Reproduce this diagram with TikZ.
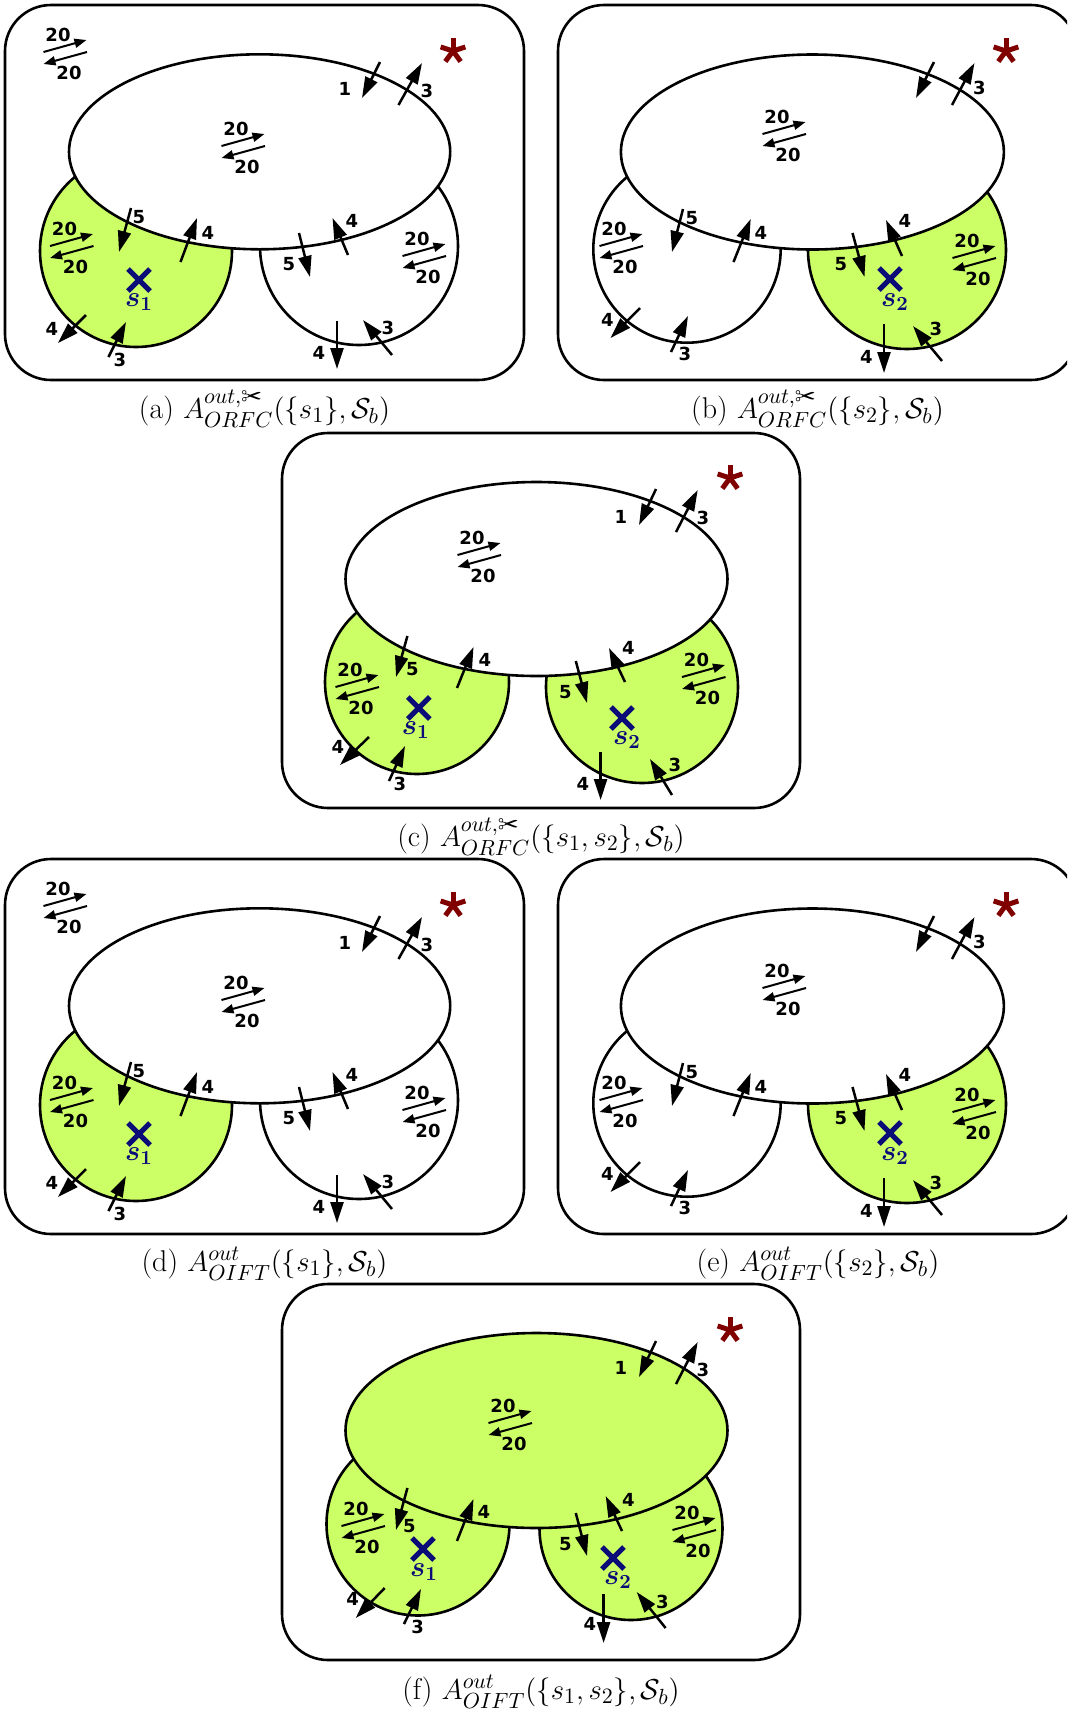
\documentclass[tikz,border=0pt]{standalone}
\usepackage{amsmath}
\usepackage{pifont}
\usepackage{fontspec}
\usetikzlibrary{arrows.meta}
\newfontfamily\labelfont{DejaVu Sans}

\definecolor{regiongreen}{RGB}{204,255,102}
\definecolor{sitenavy}{RGB}{12,12,120}
\definecolor{starred}{RGB}{128,0,0}

\tikzset{
  panelframe/.style={line width=1.3pt, rounded corners=23pt},
  border/.style={line width=1.3pt},
  flow/.style={line width=1.25pt, -{Triangle[length=10.5pt,width=6.5pt]}},
  xflow/.style={line width=1pt, -{Triangle[length=6pt,width=4.5pt]}},
  num/.style={font=\labelfont\bfseries\fontsize{9}{9}\selectfont, inner sep=0pt},
  sitemark/.style={line width=2.6pt, draw=sitenavy},
  sitelabel/.style={text=sitenavy, inner sep=0pt, font=\fontsize{14.5}{14.5}\selectfont\boldmath},
  caption/.style={font=\fontsize{15}{17}\selectfont, inner sep=0pt, anchor=base},
  pics/xchg/.style={code={
    \draw[xflow] (-21.5,0) -- (21.5,-12);
    \draw[xflow] (22,0) -- (-21.5,12);
    \node[num] (-top) at (-7,-17) {20};
    \node[num] (-bot) at (4,21) {20};
  }},
  pics/destination/.style={code={
    \foreach \a in {-90,-18,54,126,198}
      \draw[starred, line width=2.5pt] (0,0) -- (\a:13);
  }},
}

% an arrow between two named end points
\newcommand\flowarrow[3]{%
  \coordinate (#1-t) at (#2);
  \coordinate (#1-h) at (#3);
  \draw[flow] (#1-t) -- (#1-h);}
\newcommand\flowlabel[3]{\node[num] (#1-n) at (#2) {#3};}
% a source site: cross with its name below
\newcommand\site[4]{%
  \coordinate (#1) at (#2);
  \draw[sitemark] (#1) +(-11,-11) -- +(11,11) +(-11,11) -- +(11,-11);
  \node[sitelabel] (#1-lab) at (#3) {$#4$};}

% layout with the left sub-area highlighted
\newcommand\panelLeft[1]{%
  \draw[panelframe] (5,5) rectangle (524,380);
  \filldraw[border, fill=regiongreen] (136,251) circle[radius=96];
  \filldraw[border, fill=white] (359,246) circle[radius=99];
  \filldraw[border, fill=white] (259.6,151.8) ellipse[x radius=190.6, y radius=97.5];
  \pic (#1-x0) at (65,52) {xchg};
  \pic (#1-x1) at (243,146) {xchg};
  \pic (#1-x2) at (71.5,246) {xchg};
  \pic (#1-x3) at (424,256) {xchg};
  \flowarrow{#1-f1}{380,62}{362,98}       \flowlabel{#1-f1}{345,89}{1}
  \flowarrow{#1-f2}{398.5,105}{422,63}    \flowlabel{#1-f2}{427,91}{3}
  \flowarrow{#1-f3}{131,208}{119,252}     \flowlabel{#1-f3}{139,217}{5}
  \flowarrow{#1-f4}{180.5,262}{197,218}   \flowlabel{#1-f4}{208,233}{4}
  \flowarrow{#1-f5}{299,233}{310,277}     \flowlabel{#1-f5}{289,264}{5}
  \flowarrow{#1-f6}{348,255}{332.5,218}   \flowlabel{#1-f6}{352,221}{4}
  \flowarrow{#1-f7}{86,315}{58,343}       \flowlabel{#1-f7}{52,329}{4}
  \flowarrow{#1-f8}{108.5,357}{126,322}   \flowlabel{#1-f8}{120,360}{3}
  \flowarrow{#1-f9}{337,321}{337,369}     \flowlabel{#1-f9}{319,353}{4}
  \flowarrow{#1-f10}{392,355}{363,320}    \flowlabel{#1-f10}{388,328}{3}
  \site{#1-s1}{139,280}{139,302}{s_1}
  \pic (#1-star) at (453,51) {destination};
}

% layout with the right sub-area highlighted
\newcommand\panelRight[1]{%
  \draw[panelframe] (558,5) rectangle (1077,380);
  \filldraw[border, fill=white] (687,249) circle[radius=93.7];
  \filldraw[border, fill=regiongreen] (907,250) circle[radius=99];
  \filldraw[border, fill=white] (812.4,152) ellipse[x radius=191.5, y radius=97.5];
  \pic (#1-x1) at (784,134) {xchg};
  \pic (#1-x2) at (621,246) {xchg};
  \pic (#1-x3) at (974,258) {xchg};
  \flowarrow{#1-f1}{934,62}{916,98}
  \flowarrow{#1-f2}{952,105}{974.5,63}    \flowlabel{#1-f2}{979.5,88}{3}
  \flowarrow{#1-f3}{683,209}{672,252}     \flowlabel{#1-f3}{692,218}{5}
  \flowarrow{#1-f4}{733.5,262}{750.7,219} \flowlabel{#1-f4}{761,233}{4}
  \flowarrow{#1-f5}{852.5,233}{864.5,277} \flowlabel{#1-f5}{841,264}{5}
  \flowarrow{#1-f6}{902,256}{886,220}     \flowlabel{#1-f6}{905,221}{4}
  \flowarrow{#1-f7}{640,308}{610.5,338}   \flowlabel{#1-f7}{607.5,320}{4}
  \flowarrow{#1-f8}{671,352}{688,316}     \flowlabel{#1-f8}{685,354}{3}
  \flowarrow{#1-f9}{884,324}{884,373}     \flowlabel{#1-f9}{866.5,357}{4}
  \flowarrow{#1-f10}{942,361}{913,326}    \flowlabel{#1-f10}{936,329}{3}
  \site{#1-s2}{890,279}{895,302}{s_2}
  \pic (#1-star) at (1006,51) {destination};
}

\begin{document}
\begin{tikzpicture}[x=0.5pt,y=-0.5pt]
\useasboundingbox (0,0) rectangle (1067,1710);
\clip (0,0) rectangle (1067,1710);

% (a) and (b)
\panelLeft{a}
\node[caption] (cap-a) at (264.5,418) {(a) $A^{out,\text{\ding{34}}}_{ORFC}(\{s_1\},\mathcal{S}_b)$};
\panelRight{b}
\node[caption] (cap-b) at (817.5,418) {(b) $A^{out,\text{\ding{34}}}_{ORFC}(\{s_2\},\mathcal{S}_b)$};

% (c) both sub-areas highlighted
\draw[panelframe] (282,433) rectangle (800,808);
\filldraw[border, fill=regiongreen] (417,682) circle[radius=92];
\filldraw[border, fill=regiongreen] (642,687) circle[radius=96];
\filldraw[border, fill=white] (536.5,579) ellipse[x radius=191, y radius=97];
\pic (c-x1) at (479,555) {xchg};
\pic (c-x2) at (357,687) {xchg};
\pic (c-x3) at (703.5,677) {xchg};
\flowarrow{c-f1}{656,489}{639,525}       \flowlabel{c-f1}{621,517}{1}
\flowarrow{c-f2}{676,532}{697.7,490}     \flowlabel{c-f2}{703,518}{3}
\flowarrow{c-f3}{407.4,636}{396,677}     \flowlabel{c-f3}{412.5,669}{5}
\flowarrow{c-f4}{457,688}{473.5,647}     \flowlabel{c-f4}{485,660}{4}
\flowarrow{c-f5}{575.8,661}{587,703}     \flowlabel{c-f5}{565.4,692}{5}
\flowarrow{c-f6}{625,682}{609,648}       \flowlabel{c-f6}{628.5,648}{4}
\flowarrow{c-f7}{369,737}{340,765}       \flowlabel{c-f7}{338,747}{4}
\flowarrow{c-f8}{389,781}{405,746}       \flowlabel{c-f8}{400,784}{3}
\flowarrow{c-f9}{600.6,752}{600.6,800}   \flowlabel{c-f9}{583,784}{4}
\flowarrow{c-f10}{672,795}{650,759}      \flowlabel{c-f10}{675,765}{3}
\site{c-s1}{418.8,708}{415.7,730}{s_1}
\site{c-s2}{622,718}{627,740}{s_2}
\pic (c-star) at (730,478) {destination};
\node[caption] (cap-c) at (541,846) {(c) $A^{out,\text{\ding{34}}}_{ORFC}(\{s_1,s_2\},\mathcal{S}_b)$};

% (d) and (e)
\begin{scope}[shift={(0,854)}]
  \panelLeft{d}
  \node[caption] (cap-d) at (264.5,417) {(d) $A^{out}_{OIFT}(\{s_1\},\mathcal{S}_b)$};
  \panelRight{e}
  \node[caption] (cap-e) at (818,417) {(e) $A^{out}_{OIFT}(\{s_2\},\mathcal{S}_b)$};
\end{scope}

% (f) everything highlighted
\draw[panelframe] (282,1284) rectangle (800,1660);
\filldraw[border, fill=regiongreen] (418,1524) circle[radius=91.5];
\filldraw[border, fill=regiongreen] (631,1528.5) circle[radius=91.5];
\filldraw[border, fill=regiongreen] (536.5,1430.5) ellipse[x radius=191, y radius=97.5];
\pic (f-x1) at (510,1423) {xchg};
\pic (f-x2) at (363,1526) {xchg};
\pic (f-x3) at (694,1530) {xchg};
\flowarrow{f-f1}{656,1341}{639,1377}     \flowlabel{f-f1}{621,1368}{1}
\flowarrow{f-f2}{676,1384}{697.7,1342}   \flowlabel{f-f2}{703,1370}{3}
\flowarrow{f-f3}{407.4,1488}{396,1530}   \flowlabel{f-f3}{409.5,1526}{5}
\flowarrow{f-f4}{457,1541}{473.5,1499}   \flowlabel{f-f4}{484,1512}{4}
\flowarrow{f-f5}{575.8,1513}{587,1556}   \flowlabel{f-f5}{565.4,1544}{5}
\flowarrow{f-f6}{622,1531}{605.7,1496}   \flowlabel{f-f6}{628.5,1500}{4}
\flowarrow{f-f7}{384.7,1588}{355.7,1618} \flowlabel{f-f7}{352.6,1599}{4}
\flowarrow{f-f8}{404,1624}{421,1589}     \flowlabel{f-f8}{417.7,1627}{3}
\flowarrow{f-f9}{603.6,1594}{603.6,1643} \flowlabel{f-f9}{590,1624}{4}
\flowarrow{f-f10}{665.6,1628}{636.7,1592} \flowlabel{f-f10}{662.5,1602}{3}
\site{f-s1}{423,1549}{424,1572}{s_1}
\site{f-s2}{613,1558}{618,1580}{s_2}
\pic (f-star) at (730,1330) {destination};
\node[caption] (cap-f) at (541,1699) {(f) $A^{out}_{OIFT}(\{s_1,s_2\},\mathcal{S}_b)$};
\end{tikzpicture}
\end{document}
